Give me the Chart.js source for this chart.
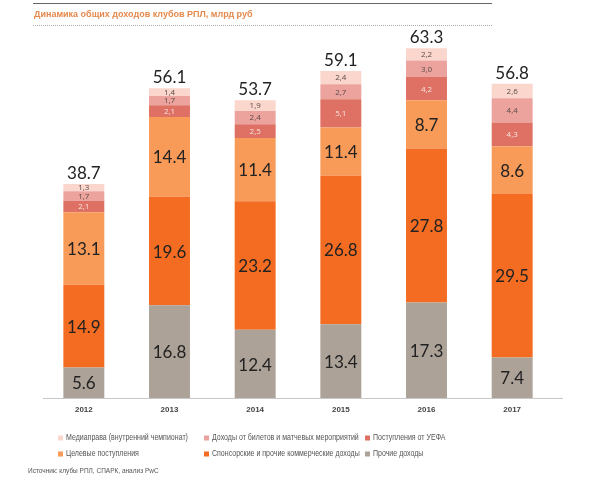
<!DOCTYPE html>
<html>
<head>
<meta charset="utf-8">
<script src="https://cdn.jsdelivr.net/npm/chart.js@4.4.0/dist/chart.umd.min.js"></script>
<style>
html,body{margin:0;padding:0;background:#fff;}
#wrap{width:600px;height:480px;}
</style>
</head>
<body>
<div id="wrap"><canvas id="c" width="600" height="480"></canvas></div>
<script>
const years = ['2012','2013','2014','2015','2016','2017'];
const prochie = [5.6, 16.8, 12.4, 13.4, 17.3, 7.4];
const sponsor = [14.9, 19.6, 23.2, 26.8, 27.8, 29.5];
const tselevye = [13.1, 14.4, 11.4, 8.7, 8.7, 8.6];
const tselevyeShown = ['13.1', '14.4', '11.4', '11.4', '8.7', '8.6'];
const uefa = [2.1, 2.1, 2.5, 5.1, 4.2, 4.3];
const bilety = [1.7, 1.7, 2.4, 2.7, 3.0, 4.4];
const media = [1.3, 1.4, 1.9, 2.4, 2.2, 2.6];
const totals = ['38.7', '56.1', '53.7', '59.1', '63.3', '56.8'];

const seriesNames = [
  'Прочие доходы',
  'Спонсорские и прочие коммерческие доходы',
  'Целевые поступления',
  'Поступления от УЕФА',
  'Доходы от билетов и матчевых мероприятий',
  'Медиаправа (внутренний чемпионат)'
];
const colors = ['#aca298', '#f36c21', '#f89a58', '#df7164', '#eca39d', '#fbd6cd'];

const datasets = [prochie, sponsor, tselevye, uefa, bilety, media].map((d, i) => ({
  label: seriesNames[i],
  data: d,
  backgroundColor: colors[i],
  borderWidth: 0,
  barPercentage: 0.478,
  categoryPercentage: 1.0
}));

const decor = {
  id: 'decor',
  afterDatasetsDraw(chart) {
    const ctx = chart.ctx;
    const ca = chart.chartArea;
    ctx.save();
    // header lines
    ctx.strokeStyle = '#666';
    ctx.lineWidth = 1.2;
    ctx.beginPath(); ctx.moveTo(33, 3.5); ctx.lineTo(492, 3.5); ctx.stroke();
    ctx.strokeStyle = '#aaa';
    ctx.lineWidth = 1;
    ctx.setLineDash([1, 1]);
    ctx.beginPath(); ctx.moveTo(33, 25.5); ctx.lineTo(492, 25.5); ctx.stroke();
    ctx.setLineDash([]);
    // title
    ctx.fillStyle = '#e5894c';
    ctx.font = 'bold 9px "Liberation Sans", Arial, sans-serif';
    ctx.textAlign = 'left';
    ctx.textBaseline = 'middle';
    ctx.fillText('Динамика общих доходов клубов РПЛ, млрд руб', 34, 15);
    // x axis line
    ctx.strokeStyle = '#c8c8c8';
    ctx.lineWidth = 1;
    ctx.beginPath(); ctx.moveTo(43, Math.round(ca.bottom) + 0.5); ctx.lineTo(563, Math.round(ca.bottom) + 0.5); ctx.stroke();

    // segment labels
    ctx.textAlign = 'center';
    chart.data.datasets.forEach((ds, di) => {
      const meta = chart.getDatasetMeta(di);
      meta.data.forEach((bar, i) => {
        const yMid = (bar.y + bar.base) / 2;
        if (di <= 2) {
          ctx.font = '17px Lato, "Open Sans", sans-serif';
          ctx.fillStyle = '#222';
          const txt = di === 2 ? tselevyeShown[i] : ds.data[i].toFixed(1);
          ctx.fillText(txt, bar.x, yMid + 1);
        } else {
          ctx.font = '8px "Open Sans", "Liberation Sans", sans-serif';
          ctx.fillStyle = di === 3 ? '#f7e4df' : '#5a4a48';
          ctx.fillText(ds.data[i].toFixed(1).replace('.', ','), bar.x, yMid + 0.5);
        }
      });
    });
    // totals
    const topMeta = chart.getDatasetMeta(chart.data.datasets.length - 1);
    ctx.font = '17px Lato, "Open Sans", sans-serif';
    ctx.fillStyle = '#222';
    ctx.textBaseline = 'alphabetic';
    topMeta.data.forEach((bar, i) => {
      ctx.fillText(totals[i], bar.x, bar.y - 5);
    });

    // legend
    const order = [5, 4, 3, 2, 1, 0];
    const colX = [58, 204, 365];
    const rowY = [438, 454];
    ctx.font = '9px "Liberation Sans", Arial, sans-serif';
    ctx.textAlign = 'left';
    ctx.textBaseline = 'middle';
    order.forEach((di, k) => {
      const x = colX[k % 3];
      const y = rowY[Math.floor(k / 3)];
      ctx.fillStyle = colors[di];
      ctx.fillRect(x, y - 2.5, 5, 5);
      ctx.fillStyle = '#555';
      ctx.save();
      ctx.translate(x + 8, y);
      ctx.scale(0.78, 1);
      ctx.fillText(seriesNames[di], 0, 0);
      ctx.restore();
    });
    // source
    ctx.font = '6.5px "Liberation Sans", Arial, sans-serif';
    ctx.fillStyle = '#555';
    ctx.fillText('Источник: клубы РПЛ, СПАРК, анализ PwC', 28, 471);
    ctx.restore();
  }
};

new Chart(document.getElementById('c'), {
  type: 'bar',
  data: { labels: years, datasets },
  options: {
    responsive: false,
    animation: false,
    layout: { padding: { left: 41, right: 45, top: 30, bottom: 58 } },
    plugins: { legend: { display: false }, tooltip: { enabled: false } },
    scales: {
      x: {
        stacked: true,
        grid: { display: false, drawTicks: false },
        border: { display: false },
        ticks: { color: '#444', font: { size: 8, weight: 'bold', family: '"Liberation Sans", Arial, sans-serif' }, padding: 7 }
      },
      y: {
        stacked: true,
        display: false,
        min: 0,
        max: 66.5
      }
    }
  },
  plugins: [decor]
});
</script>
</body>
</html>
